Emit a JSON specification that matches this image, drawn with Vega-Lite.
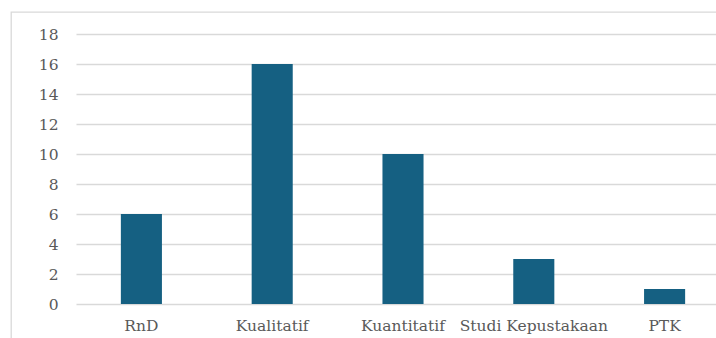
{
  "$schema": "https://vega.github.io/schema/vega-lite/v6.json",
  "autosize": "none",
  "padding": {"left": 11, "top": 12, "right": 0, "bottom": 0},
  "width": 720,
  "height": 330,
  "background": "#ffffff",
  "data": {
    "values": [
      {"metode": "RnD", "jumlah": 6},
      {"metode": "Kualitatif", "jumlah": 16},
      {"metode": "Kuantitatif", "jumlah": 10},
      {"metode": "Studi Kepustakaan", "jumlah": 3},
      {"metode": "PTK", "jumlah": 1}
    ]
  },
  "mark": {"type": "bar", "color": "#156082"},
  "encoding": {
    "x": {
      "field": "metode",
      "type": "nominal",
      "sort": null,
      "scale": {"range": [65, 719], "paddingInner": 0.686, "paddingOuter": 0.343},
      "axis": {
        "title": null,
        "labelAngle": 0,
        "offset": -38,
        "domain": false,
        "ticks": false,
        "labelPadding": 14,
        "labelFont": "DejaVu Serif",
        "labelFontSize": 15.5,
        "labelColor": "#595959"
      }
    },
    "y": {
      "field": "jumlah",
      "type": "quantitative",
      "scale": {"domain": [0, 18], "range": [292, 22], "nice": false},
      "axis": {
        "title": null,
        "values": [0, 2, 4, 6, 8, 10, 12, 14, 16, 18],
        "offset": -65,
        "domain": false,
        "ticks": false,
        "labelPadding": 18,
        "labelFont": "DejaVu Serif",
        "labelFontSize": 15.5,
        "labelColor": "#595959",
        "gridColor": "#d9d9d9",
        "gridWidth": 1.3
      }
    }
  },
  "config": {
    "view": {"stroke": "#d9d9d9", "strokeWidth": 1.3}
  }
}
